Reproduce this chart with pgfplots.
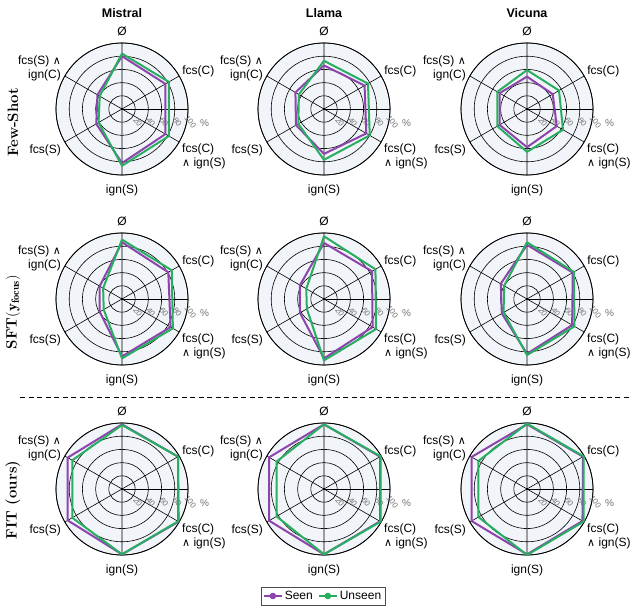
\documentclass[border=0pt]{standalone}
\usepackage{pgfplots}
\pgfplotsset{compat=1.18}
\usepgfplotslibrary{polar}
\usepackage{fontspec}
\newfontfamily\arialfont{Liberation Sans}
\newfontfamily\djv{DejaVu Sans}
\newcommand\lbl{\arialfont\fontsize{12}{14}\selectfont}
\newcommand\wedgesym{{\djv\fontsize{11}{14}\selectfont ∧}}
\definecolor{seenc}{HTML}{8E44AD}
\definecolor{unseenc}{HTML}{27AE60}
\definecolor{bgfill}{HTML}{F1F4F8}
\tikzset{lab/.style={font=\lbl, inner sep=0pt}}
\pgfplotsset{
  seen/.style={color=seenc, line width=2pt, line join=round, mark=none},
  unseen/.style={color=unseenc, line width=2pt, line join=round, mark=none},
  radarstyle/.style={
    anchor=center, scale only axis, width=132pt, height=132pt,
    xmin=0, xmax=360, ymin=0, ymax=100,
    xtick={30,90,150,210,270,330},
    xticklabels={{},{},{},{},{},{}},
    ytick={20,40,60,80,100},
    major tick length=0pt,
    grid=major,
    major grid style={black, line width=0.6pt},
    axis line style={black, line width=0.8pt},
    axis background/.style={fill=bgfill},
    yticklabel style={font=\arialfont\fontsize{8}{10}\selectfont, text=black!55, anchor=center, xshift=2.5pt, yshift=-13pt, rotate=-52, inner sep=0pt},
    /pgf/number format/assume math mode=true,
    clip=false,
  },
}
\newcommand{\radar}[4]{%
\begin{polaraxis}[radarstyle, at={(#1pt,#2pt)}]
\addplot[seen] coordinates {#3};
\addplot[unseen] coordinates {#4};
\node[font=\arialfont\fontsize{10}{12}\selectfont, text=black!55] at (axis cs:-10,127) {\%};
\node[lab, anchor=center] at (axis cs:90,118) {Ø};
\node[lab, anchor=west] at (axis cs:31.7,107) {fcs(C)};
\node[lab, anchor=west] at (axis cs:-38.4,116) {\begin{tabular}{@{}l@{}}fcs(C)\\\wedgesym{} ign(S)\end{tabular}};
\node[lab, anchor=center] at (axis cs:270,123.5) {ign(S)};
\node[lab, anchor=east] at (axis cs:214.5,112) {fcs(S)};
\node[lab, anchor=east] at (axis cs:146.7,110.5) {\begin{tabular}{@{}r@{}}fcs(S) \wedgesym\\ign(C)\end{tabular}};
\end{polaraxis}}
\begin{document}
\begin{tikzpicture}[x=1pt,y=1pt]
\path[use as bounding box] (0,0) rectangle (631,610);
% titles
\foreach \xx/\tt in {122/Mistral,324/Llama,527/Vicuna}
  \node[font=\arialfont\bfseries\fontsize{12.5}{15}\selectfont] at (\xx,597) {\tt};
% row labels
\node[rotate=90, font=\fontsize{15}{18}\selectfont\bfseries] at (13,487.5) {Few-Shot};
\node[rotate=90, font=\fontsize{15}{18}\selectfont\bfseries] at (13,298) {SFT$(\mathbf{y}_{\mathbf{focus}})$};
\node[rotate=90, font=\fontsize{15}{18}\selectfont\bfseries] at (13,110) {FIT (ours)};
\draw[black, line width=0.6pt, dash pattern=on 5pt off 3.5pt] (20,213) -- (630,213);
% order: Ø(90), fcs(C)(30), fcs(C)&ign(S)(330), ign(S)(270), fcs(S)(210), fcs(S)&ign(C)(150)
% Few-Shot
\radar{122}{501}{(90,80) (30,76) (330,76) (270,82) (210,45) (150,43) (90,80)}{(90,84) (30,82) (330,82) (270,86) (210,41) (150,39) (90,84)}
\radar{324}{501}{(90,66) (30,71) (330,74) (270,68) (210,49) (150,50) (90,66)}{(90,73) (30,77) (330,80) (270,77) (210,45) (150,44) (90,73)}
\radar{527}{501}{(90,49) (30,45) (330,52) (270,58) (210,48) (150,48) (90,49)}{(90,59) (30,56) (330,63) (270,65) (210,52) (150,52) (90,59)}
% SFT
\radar{122}{311}{(90,86) (30,81) (330,85) (270,87) (210,39) (150,39) (90,86)}{(90,90) (30,87) (330,89) (270,90) (210,32) (150,33) (90,90)}
\radar{324}{311}{(90,85) (30,84) (330,85) (270,90) (210,42) (150,42) (90,85)}{(90,95) (30,90) (330,91) (270,93) (210,30) (150,31) (90,95)}
\radar{527}{311}{(90,82) (30,80) (330,79) (270,83) (210,44) (150,46) (90,82)}{(90,86) (30,82) (330,83) (270,85) (210,41) (150,40) (90,86)}
% FIT
\radar{122}{121}{(90,98) (30,98) (330,99) (270,99) (210,95) (150,95) (90,98)}{(90,97) (30,98) (330,98) (270,99) (210,87) (150,87) (90,97)}
\radar{324}{121}{(90,98) (30,98) (330,98) (270,99) (210,96) (150,96) (90,98)}{(90,98) (30,99) (330,99) (270,99) (210,83) (150,83) (90,98)}
\radar{527}{121}{(90,98) (30,98) (330,97) (270,99) (210,97) (150,97) (90,98)}{(90,99) (30,99) (330,99) (270,100) (210,85) (150,85) (90,99)}
% legend
\begin{axis}[at={(323pt,14pt)}, anchor=center, hide axis, scale only axis, width=10pt, height=10pt,
  xmin=0, xmax=1, ymin=0, ymax=1,
  legend columns=2,
  legend style={at={(0.5,0.5)}, anchor=center, draw=black!70, font=\lbl, inner sep=2pt,
    /tikz/every even column/.append style={column sep=3pt}},
  legend image code/.code={\draw[#1] (0pt,0pt) -- (18pt,0pt); \fill[#1, mark=none] (9pt,0pt) circle (2.3pt);}]
\addlegendimage{seen}
\addlegendentry{Seen}
\addlegendimage{unseen}
\addlegendentry{Unseen}
\end{axis}
\end{tikzpicture}
\end{document}
